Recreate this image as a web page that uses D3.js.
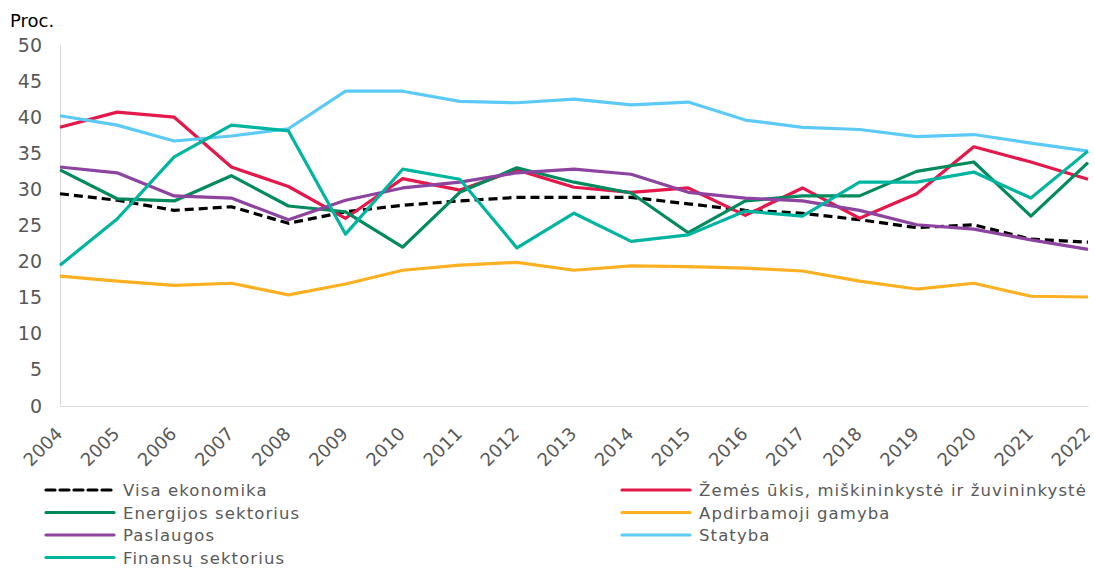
<!DOCTYPE html>
<html>
<head>
<meta charset="utf-8">
<script src="https://cdn.jsdelivr.net/npm/d3@7"></script>
<style>
    body { margin: 0; background: #fff; }
    svg text { font-family: "DejaVu Sans", Verdana, sans-serif; }
</style>
</head>
<body>
<div id="chart"></div>
<script>
/* jshint esversion: 6 */

// #############################################################################
var years = [2004, 2005, 2006, 2007, 2008, 2009, 2010, 2011, 2012, 2013,
             2014, 2015, 2016, 2017, 2018, 2019, 2020, 2021, 2022];

var yTicks = [0, 5, 10, 15, 20, 25, 30, 35, 40, 45, 50];

var visaEkonomika = [29.4, 28.5, 27.1, 27.6, 25.3, 26.9, 27.8, 28.4, 28.9, 28.9,
                     28.9, 28.0, 27.1, 26.7, 25.8, 24.7, 25.1, 23.1, 22.7];
var zemesUkis     = [38.6, 40.7, 40.0, 33.1, 30.4, 26.0, 31.5, 29.9, 32.7, 30.3,
                     29.6, 30.2, 26.4, 30.2, 26.0, 29.4, 35.9, 33.8, 31.4];
var energijos     = [32.7, 28.7, 28.4, 31.9, 27.7, 26.9, 22.0, 29.6, 33.0, 31.0,
                     29.5, 24.0, 28.4, 29.1, 29.1, 32.5, 33.8, 26.3, 33.7];
var apdirbamoji   = [18.0, 17.3, 16.7, 17.0, 15.4, 16.9, 18.8, 19.5, 19.9, 18.8,
                     19.4, 19.3, 19.1, 18.7, 17.3, 16.2, 17.0, 15.2, 15.1];
var paslaugos     = [33.1, 32.3, 29.1, 28.8, 25.8, 28.5, 30.2, 31.0, 32.3, 32.8,
                     32.1, 29.6, 28.8, 28.4, 27.1, 25.1, 24.5, 23.0, 21.7];
var statyba       = [40.2, 38.9, 36.7, 37.4, 38.4, 43.6, 43.6, 42.2, 42.0, 42.5,
                     41.7, 42.1, 39.6, 38.6, 38.3, 37.3, 37.6, 36.4, 35.3];
var finansu       = [19.5, 25.9, 34.5, 38.9, 38.1, 23.8, 32.8, 31.4, 21.9, 26.7,
                     22.8, 23.7, 27.0, 26.3, 31.0, 31.0, 32.4, 28.8, 35.3];

var seriesNames = ["Visa ekonomika",
                   "Žemės ūkis, miškininkystė ir žuvininkystė",
                   "Energijos sektorius",
                   "Apdirbamoji gamyba",
                   "Paslaugos",
                   "Statyba",
                   "Finansų sektorius"];
var seriesValues = [visaEkonomika, zemesUkis, energijos, apdirbamoji,
                    paslaugos, statyba, finansu];
var seriesColors = ["#000000", "#e4184a", "#008a5e", "#fdb022",
                    "#8d44a0", "#5ccaf7", "#00b5a0"];
// #############################################################################

var width = 1094, height = 568;
var margin = {left: 60, right: 6, top: 45, bottom: 162};

var svg = d3.select("#chart")
            .append("svg")
            .attr("width", width)
            .attr("height", height);

// #############################################################################
var xScale = d3.scalePoint()
             .domain(years)
             .range([margin.left, width - margin.right]);

var yScale = d3.scaleLinear()
             .domain([0, 50])
             .range([height - margin.bottom, margin.top]);
// #############################################################################

// axes
var yAxis = svg.append("g")
               .attr("transform", `translate(${margin.left},0)`)
               .call(d3.axisLeft(yScale).tickValues(yTicks).tickSize(0).tickPadding(18));
yAxis.select(".domain").attr("stroke", "#d9d9d9");
yAxis.selectAll("text")
     .attr("fill", "#595959")
     .style("font-size", "19px");

var xAxis = svg.append("g")
               .attr("transform", `translate(0,${height - margin.bottom})`)
               .call(d3.axisBottom(xScale).tickSize(0).tickPadding(0));
xAxis.select(".domain").attr("stroke", "#d9d9d9");
xAxis.selectAll("text")
     .attr("fill", "#595959")
     .style("font-size", "18px")
     .attr("text-anchor", "end")
     .attr("dy", null)
     .attr("transform", "translate(3,29) rotate(-45)");

svg.append("text")
   .attr("x", 10)
   .attr("y", 27)
   .attr("fill", "#000")
   .style("font-size", "18px")
   .text("Proc.");

// lines
var line = d3.line()
             .x((d, i) => xScale(years[i]))
             .y((d) => yScale(d));

seriesValues.forEach(function(vals, k) {
    svg.append("path")
       .datum(vals)
       .attr("fill", "none")
       .attr("stroke", seriesColors[k])
       .attr("stroke-width", 3.2)
       .attr("stroke-linejoin", "round")
       .attr("stroke-dasharray", k === 0 ? "9,5" : null)
       .attr("d", line);
});

// legend, two columns in row order
var legend = svg.append("g");
seriesNames.forEach(function(name, k) {
    var col = k % 2, row = Math.floor(k / 2);
    var x0 = col === 0 ? 46 : 622;
    var y0 = 490 + row * 22.5;
    legend.append("line")
          .attr("x1", x0).attr("x2", x0 + 68)
          .attr("y1", y0).attr("y2", y0)
          .attr("stroke", seriesColors[k])
          .attr("stroke-width", 3.2)
          .attr("stroke-linecap", "round")
          .attr("stroke-dasharray", k === 0 ? "9,5" : null);
    legend.append("text")
          .attr("x", x0 + 77)
          .attr("y", y0 + 6)
          .attr("fill", "#595959")
          .style("font-size", "16.5px")
          .style("letter-spacing", "1.1px")
          .text(name);
});
</script>
</body>
</html>
